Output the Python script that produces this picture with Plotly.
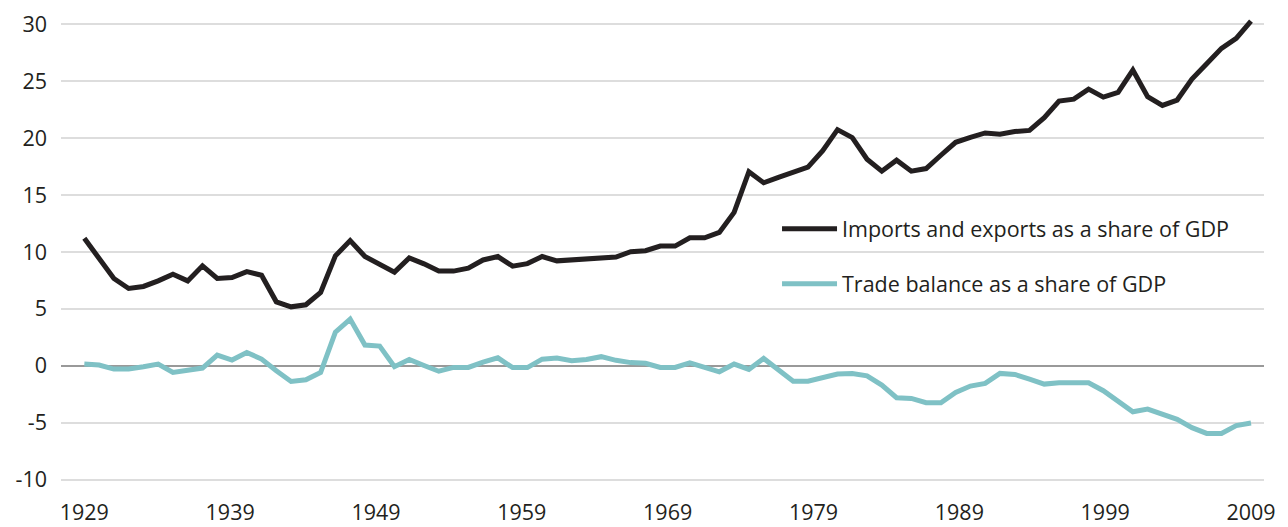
import plotly.graph_objects as go

years = list(range(1929, 2009))

trade_share = [
    11.2, 9.37, 7.67, 6.79, 6.97, 7.46, 8.05, 7.46, 8.78, 7.67,
    7.76, 8.28, 7.96, 5.62, 5.18, 5.36, 6.44, 9.66, 11.0, 9.6,
    8.96, 8.23, 9.48, 8.96, 8.32, 8.32, 8.58, 9.3, 9.6, 8.76,
    8.98, 9.6, 9.22, 9.33, 9.35, 9.54, 9.56, 10.03, 10.11, 10.52,
    10.52, 11.25, 11.25, 11.72, 13.48, 17.05, 16.08, 16.56, 16.96, 17.45,
    18.9, 20.75, 20.05, 18.15, 17.1, 18.07, 17.1, 17.33, 18.5, 19.64,
    20.08, 20.46, 20.35, 20.58, 20.68, 21.8, 23.26, 23.43, 24.31, 23.61,
    24.02, 25.98, 23.64, 22.88, 23.35, 25.19, 26.54, 27.89, 28.77, 30.29,
]

trade_balance = [
    0.15, 0.06, -0.29, -0.29, -0.09, 0.15, -0.59, -0.44, -0.2, 0.94,
    0.5, 1.17, 0.59, -0.44, -1.38, -1.23, -0.59, 2.95, 4.1, 1.82,
    1.73, -0.08, 0.55, 0.02, -0.48, -0.14, -0.14, 0.33, 0.7, -0.16,
    -0.16, 0.58, 0.68, 0.45, 0.56, 0.8, 0.48, 0.28, 0.22, -0.15,
    -0.15, 0.26, -0.09, -0.53, 0.15, -0.32, 0.64, -0.35, -1.35, -1.35,
    -1.05, -0.73, -0.67, -0.88, -1.7, -2.81, -2.87, -3.25, -3.25, -2.35,
    -1.78, -1.55, -0.67, -0.76, -1.17, -1.61, -1.49, -1.49, -1.49, -2.19,
    -3.16, -4.04, -3.8, -4.27, -4.71, -5.44, -5.94, -5.94, -5.26, -5.03,
]

tick_labels = ["1929", "1939", "1949", "1959", "1969", "1979", "1989", "1999", "2009"]
y_ticks = [-10, -5, 0, 5, 10, 15, 20, 25, 30]
y_tick_labels = ["-10", "-5", "0", "5", "10", "15", "20", "25", "30"]

series_names = ["Imports and exports as a share of GDP", "Trade balance as a share of GDP"]
series_colors = ["#231f20", "#7fc1c5"]

# tick labels spread evenly from first to last data point
n_lab = len(tick_labels) - 1
tick_pos = [years[0] + i * (years[-1] - years[0]) / n_lab for i in range(len(tick_labels))]

fig = go.Figure()
for i, (name, vals) in enumerate(zip(series_names, [trade_share, trade_balance])):
    fig.add_trace(go.Scatter(
        x=years, y=vals, mode="lines", name=name,
        line=dict(color=series_colors[i], width=5),
        legendgroup=f"g{i}",
    ))

font_family = "Open Sans, Lato, sans-serif"
text_color = "#231f20"
fs = 21.5

# page body has an 8px default margin, so the figure is sized to fit inside the window
fig.update_layout(
    width=1280, height=519,
    margin=dict(l=53, r=24, t=5, b=44),
    paper_bgcolor="white", plot_bgcolor="white",
    font=dict(family=font_family, size=fs, color=text_color),
    showlegend=True,
    legend=dict(
        x=0.5952, y=0.5843, xanchor="left", yanchor="top",
        bgcolor="rgba(0,0,0,0)", tracegroupgap=24,
        font=dict(size=fs, color=text_color), itemwidth=55,
    ),
    xaxis=dict(
        range=[1927.42, 2008.88], tickvals=tick_pos, ticktext=tick_labels,
        showgrid=False, zeroline=False, showline=False, ticks="",
        ticklabelstandoff=14, tickfont=dict(size=fs, color=text_color),
        automargin=False,
    ),
    yaxis=dict(
        range=[-10.3, 31], tickvals=y_ticks, ticktext=y_tick_labels,
        showgrid=True, gridcolor="#dddddd", gridwidth=1.5,
        zeroline=True, zerolinecolor="#999999", zerolinewidth=2,
        showline=False, ticks="", ticklabelstandoff=13,
        tickfont=dict(size=fs, color=text_color),
        automargin=False,
    ),
)

fig.write_html("out.html")
